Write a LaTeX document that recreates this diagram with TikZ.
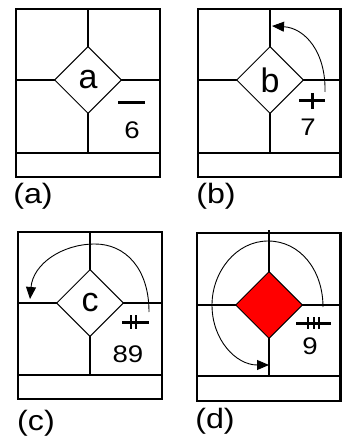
\documentclass[tikz,border=0pt]{standalone}
\usepackage{fontspec}
\setmainfont{Liberation Sans}
\newfontfamily\widefont[FakeStretch=1.15]{Liberation Sans}
\newfontfamily\labfont[FakeStretch=1.15]{Liberation Sans}
\usetikzlibrary{shapes.geometric,arrows.meta}
\begin{document}
\begin{tikzpicture}[x=1pt,y=-1pt,
  frame/.style={line width=2.5pt},
  gridl/.style={line width=2.3pt},
  dia/.style={draw,diamond,shape aspect=1,minimum width=67pt,minimum height=67pt,inner sep=0pt,line width=1pt,fill=white,font=\fontsize{34}{34}\selectfont},
  num/.style={font=\widefont\fontsize{24}{24}\selectfont,inner sep=0pt},
  lab/.style={font=\labfont\fontsize{28}{28}\selectfont,inner sep=0pt},
  tickl/.style={line width=3pt},
  tickv/.style={line width=2pt},
  turn/.style={line width=0.9pt,-{Triangle[length=12pt,width=10pt]}}
]
\useasboundingbox (0,0) rectangle (342,438);
% ---------- (a)
\draw[frame] (16,9) rectangle (160,177);
\draw[gridl] (16,153) -- (160,153);
\draw[gridl] (16,80) -- (160,80);
\draw[gridl] (88,9) -- (88,153);
\node[dia] (da) at (88,80) {a};
\draw[tickl] (118,103) -- (145,103);
\node[num] (na) at (132,130) {6};
\node[lab] (la) at (33,196) {(a)};
% ---------- (b)
\draw[frame] (198,9) rectangle (340.7,177);
\draw[gridl] (198,153) -- (340.7,153);
\draw[gridl] (198,80) -- (340.7,80);
\draw[gridl] (270,9) -- (270,153);
\node[dia] (db) at (270,80) {b};
\draw[tickl] (299,101) -- (325,101);
\draw[tickl] (312,93) -- (312,109);
\node[num] (nb) at (308,127) {7};
\node[lab] (lb) at (216,196) {(b)};
\coordinate (sb) at (325,92);
\coordinate (eb) at (272,26);
\draw[turn] (sb) .. controls (326,52) and (305,28) .. (eb);
% ---------- (c)
\draw[frame] (18,232) rectangle (162,399);
\draw[gridl] (18,375) -- (162,375);
\draw[gridl] (18,303) -- (162,303);
\draw[gridl] (90,232) -- (90,375);
\node[dia] (dc) at (90,303) {c};
\draw[tickl] (122,322) -- (149,322);
\draw[tickv] (131,315) -- (131,329);
\draw[tickv] (136,315) -- (136,329);
\node[num] (nc) at (128,354) {89};
\node[lab] (lc) at (36,423) {(c)};
\coordinate (sc) at (149,312);
\coordinate (mc) at (95,244);
\coordinate (ec) at (30,299);
\draw[turn] (sc) .. controls (149,268) and (125,244) .. (mc) .. controls (62,244) and (33,264) .. (ec);
% ---------- (d)
\draw[frame] (197,233) rectangle (340.7,401);
\draw[gridl] (197,376) -- (340.7,376);
\draw[gridl] (197,305) -- (340.7,305);
\draw[gridl] (269,230) -- (269,376);
\node[dia,fill=red] (dd) at (269,305) {};
\draw[tickl] (296,323) -- (331,323);
\draw[tickv] (308,317) -- (308,329);
\draw[tickv] (313.5,317) -- (313.5,329);
\draw[tickv] (319,317) -- (319,329);
\node[num] (nd) at (310,346) {9};
\node[lab] (ld) at (215,421) {(d)};
\coordinate (sd) at (323,307);
\coordinate (td) at (268,241);
\coordinate (ld2) at (212,305);
\coordinate (ed) at (269,365);
\draw[turn] (sd) .. controls (323,270) and (300,241) .. (td) .. controls (236,241) and (212,272) .. (ld2) .. controls (212,340) and (236,365) .. (ed);
\end{tikzpicture}
\end{document}
